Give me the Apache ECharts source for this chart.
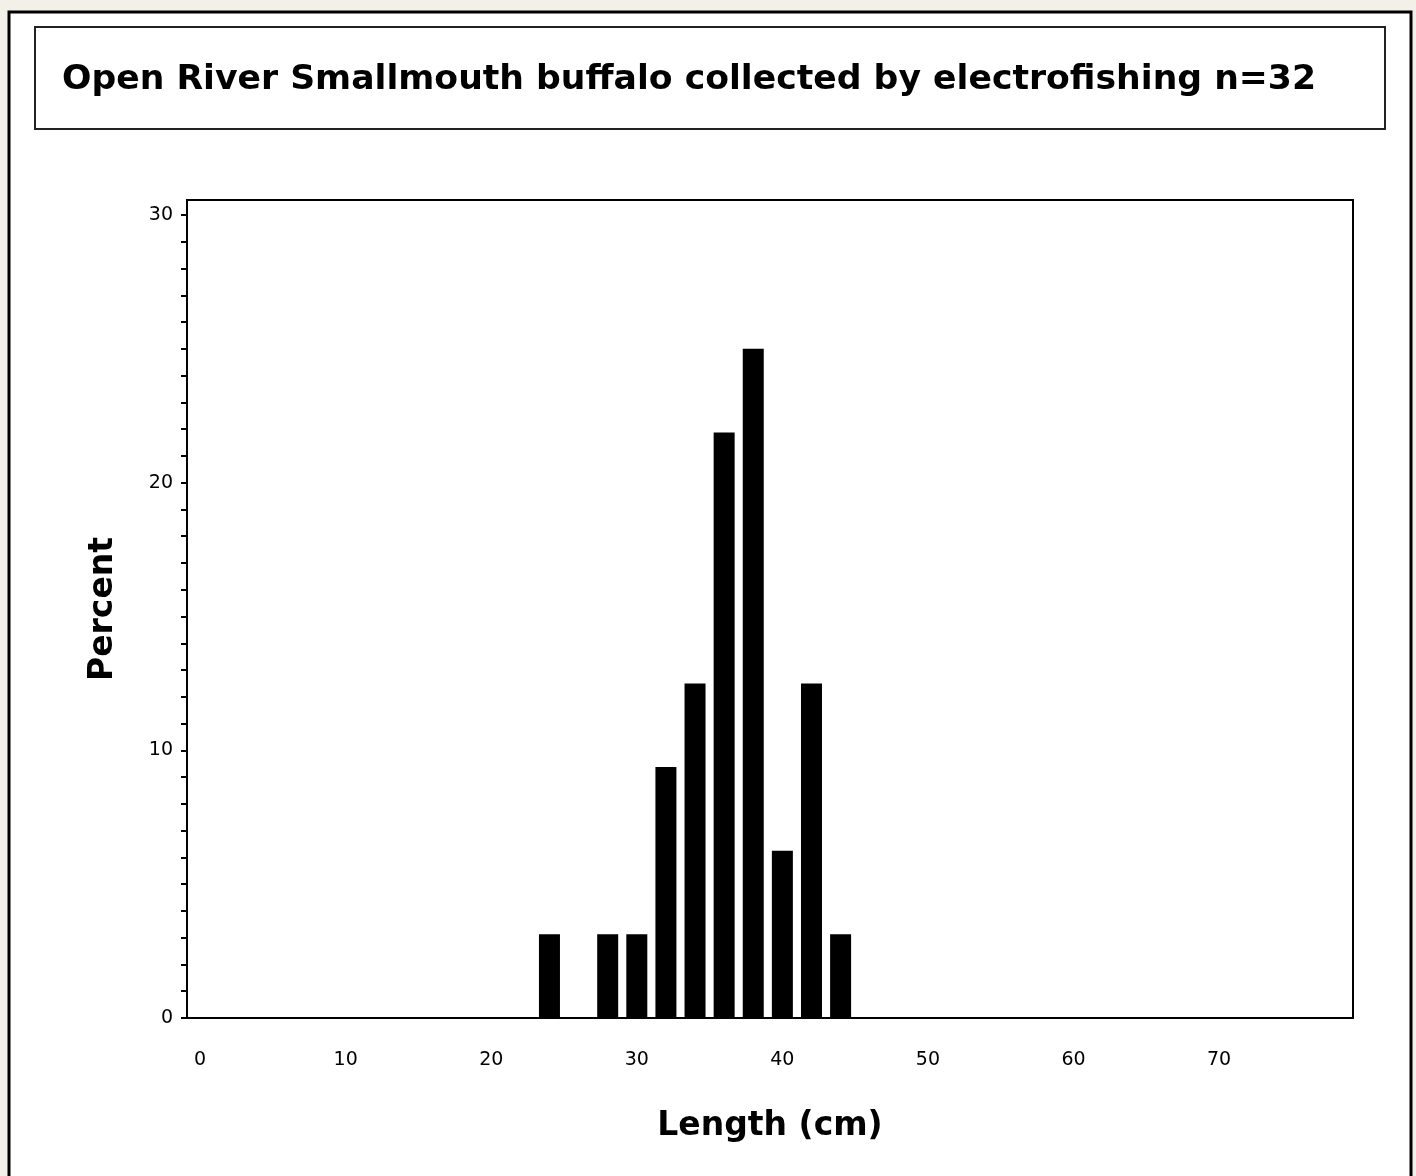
<!DOCTYPE html>
<html>
<head>
<meta charset="utf-8">
<title>Smallmouth buffalo</title>
<script src="https://cdn.jsdelivr.net/npm/echarts@6/dist/echarts.min.js"></script>
<style>
  html, body { margin: 0; padding: 0; background: #f3f0ea; }
  #main { width: 1416px; height: 1176px; }
</style>
</head>
<body>
<div id="main"></div>
<script>
// bin midpoints (cm) and percent of fish in each bin
var lengths = [24, 28, 30, 32, 34, 36, 38, 40, 42, 44];
var percents = [3.125, 3.125, 3.125, 9.375, 12.5, 21.875, 25, 6.25, 12.5, 3.125];
var xTicks = [0, 10, 20, 30, 40, 50, 60, 70];
var yTicks = [0, 10, 20, 30];

(function() {
  var myChart = echarts.init(document.getElementById("main"));

  var barData = lengths.map(function(x, i) { return [x, percents[i]]; });

  // 小刻度: every 1 percent
  var yMinor = [];
  for (var v = 0; v <= 30; v++) yMinor.push(v);

  var font = "DejaVu Sans";
  var titleText = "Open River Smallmouth buffalo collected by electrofishing n=32";
  var titleFont = "bold 34px " + font;

  // stretch the title to the width of the original SAS title
  var ctx = document.createElement("canvas").getContext("2d");
  ctx.font = titleFont;
  var titleScale = 1254 / ctx.measureText(titleText).width;

  var option = {
    animation: false,
    backgroundColor: "transparent",
    graphic: [
      {
        type: "rect",
        z: -10,
        shape: { x: 9, y: 12, width: 1402, height: 1180 },
        style: { fill: "#fff", stroke: "#000", lineWidth: 3 }
      },
      {
        type: "rect",
        shape: { x: 35, y: 27, width: 1350, height: 102 },
        style: { fill: "#fff", stroke: "#222", lineWidth: 2 }
      },
      {
        type: "text",
        x: 62,
        y: 80,
        scaleX: titleScale,
        style: {
          text: titleText,
          font: titleFont,
          fill: "#000",
          verticalAlign: "middle"
        }
      }
    ],
    grid: {
      left: 187,
      right: 63,
      top: 200,
      bottom: 158,
      show: true,
      borderColor: "#000",
      borderWidth: 2
    },
    xAxis: {
      type: "value",
      min: -0.9,
      max: 79.2,
      name: "Length (cm)",
      nameLocation: "middle",
      nameGap: 92,
      nameTextStyle: { fontFamily: font, fontSize: 33, fontWeight: "bold", color: "#000" },
      axisLine: { show: true, onZero: false, lineStyle: { color: "#000", width: 2 } },
      axisTick: { show: false },
      splitLine: { show: false },
      axisLabel: {
        customValues: xTicks,
        margin: 33,
        fontFamily: font,
        fontSize: 19,
        color: "#000"
      }
    },
    yAxis: {
      type: "value",
      min: 0,
      max: 30.56,
      name: "Percent",
      nameLocation: "middle",
      nameGap: 67,
      nameTextStyle: { fontFamily: font, fontSize: 33, fontWeight: "bold", color: "#000" },
      axisLine: { show: true, onZero: false, lineStyle: { color: "#000", width: 2 } },
      axisTick: {
        show: true,
        customValues: yMinor,
        length: 6,
        lineStyle: { color: "#000", width: 2 }
      },
      splitLine: { show: false },
      axisLabel: {
        customValues: yTicks,
        margin: 14,
        fontFamily: font,
        fontSize: 19,
        color: "#000"
      }
    },
    series: [
      {
        type: "bar",
        data: barData,
        barWidth: 21,
        itemStyle: { color: "#000" }
      }
    ]
  };

  myChart.setOption(option);
  window.addEventListener("resize", function() {
    myChart.resize();
  });
})();
</script>
</body>
</html>
